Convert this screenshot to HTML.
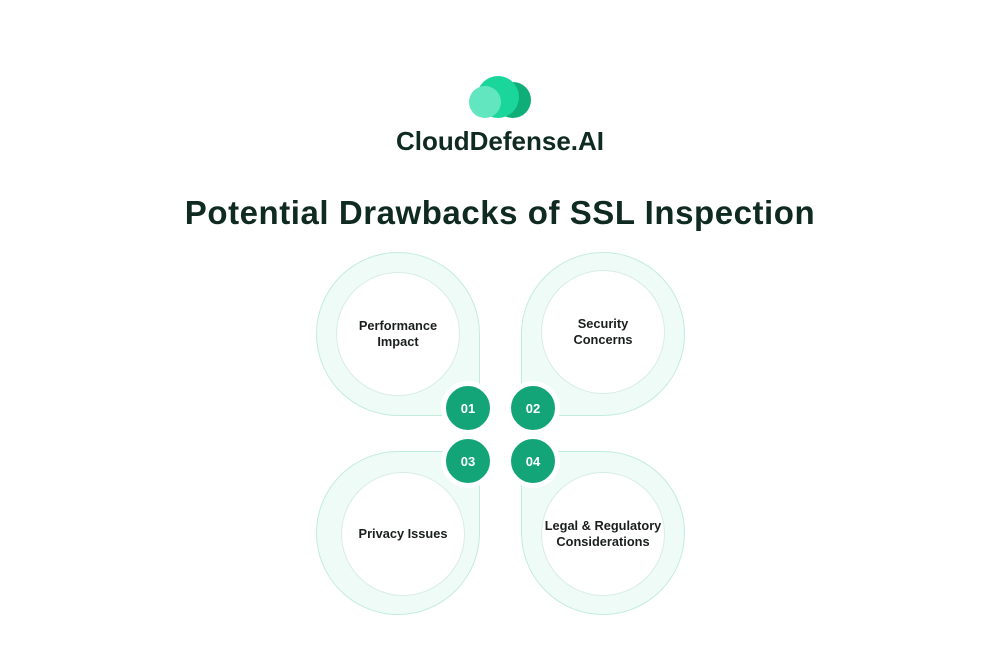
<!DOCTYPE html>
<html><head><meta charset="utf-8"><style>
body{margin:0;width:1000px;height:666px;background:#fff;position:relative;overflow:hidden;font-family:"Liberation Sans",sans-serif}
.t{position:absolute;left:0;width:1000px;text-align:center;color:#0f2a20;font-weight:bold}
.p{position:absolute;width:164px;height:164px;background:#eefbf6;border:1px solid #c3ecdc;box-sizing:border-box}
.c{position:absolute;width:124px;height:124px;border-radius:50%;background:#fff;border:1px solid #d8ede5;box-sizing:border-box;display:flex;align-items:center;justify-content:center;text-align:center;font-size:12.8px;font-weight:bold;color:#1a1f1d;line-height:16px}
.b{position:absolute;width:44px;height:44px;border-radius:50%;background:#13a578;border:5px solid #fff;display:flex;align-items:center;justify-content:center;color:#fff;font-weight:bold;font-size:13px}
</style></head><body>
<svg style="position:absolute;left:0;top:0" width="1000" height="140">
<circle cx="513" cy="100" r="18" fill="#0fae78"/>
<circle cx="498" cy="97" r="21" fill="#1ad69b"/>
<circle cx="485" cy="102" r="16" fill="#62e6c0"/>
</svg>
<div class="t" style="top:126px;font-size:26px">CloudDefense.AI</div>
<div class="t" style="top:194px;font-size:33px;font-weight:bold;letter-spacing:0.55px">Potential Drawbacks of SSL Inspection</div>
<div class="p" style="left:316px;top:252px;border-radius:82px 82px 0 82px"></div>
<div class="p" style="left:521px;top:252px;border-radius:82px 82px 82px 0"></div>
<div class="p" style="left:316px;top:451px;border-radius:82px 0 82px 82px"></div>
<div class="p" style="left:521px;top:451px;border-radius:0 82px 82px 82px"></div>
<div class="c" style="left:336px;top:272px">Performance<br>Impact</div>
<div class="c" style="left:541px;top:270px">Security<br>Concerns</div>
<div class="c" style="left:341px;top:472px">Privacy Issues</div>
<div class="c" style="left:541px;top:472px">Legal &amp; Regulatory<br>Considerations</div>
<div class="b" style="left:441px;top:381px">01</div>
<div class="b" style="left:506px;top:381px">02</div>
<div class="b" style="left:441px;top:434px">03</div>
<div class="b" style="left:506px;top:434px">04</div>
</body></html>
